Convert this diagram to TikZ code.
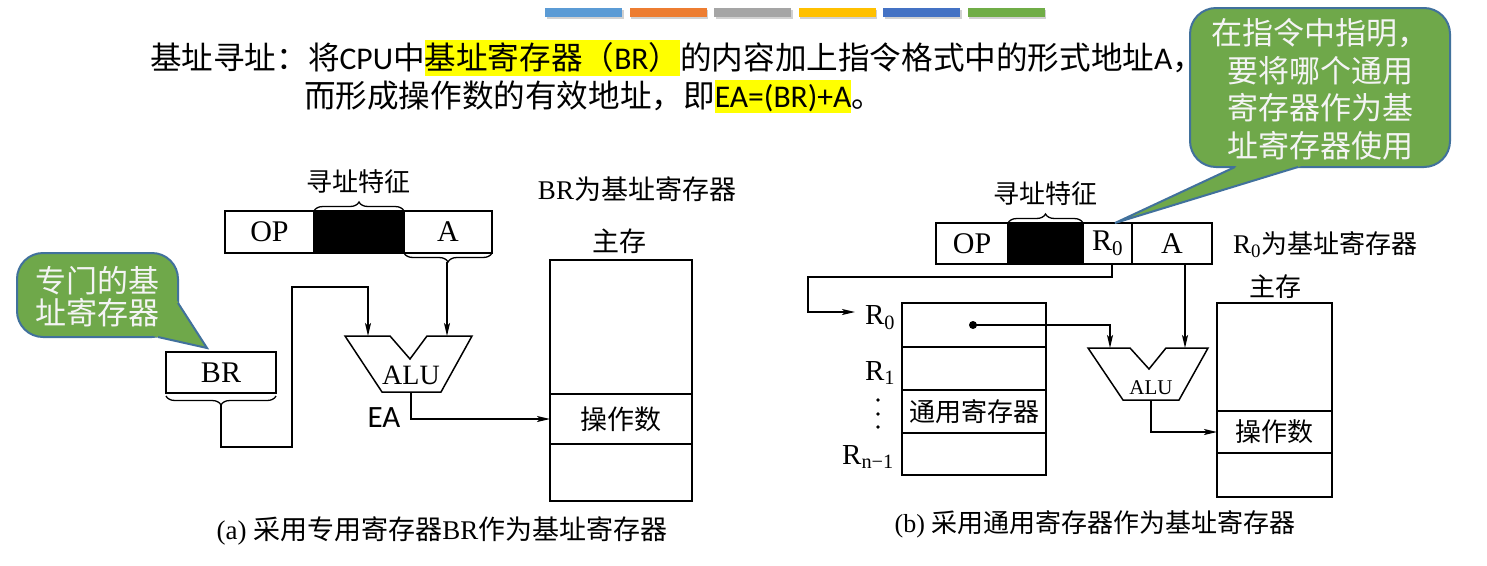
\documentclass[tikz,border=0pt]{standalone}
\usepackage{fontspec}
\setmainfont{Liberation Serif}
\newfontfamily\cjk{Noto Sans CJK SC}
\newfontfamily\carl{Carlito}
\usetikzlibrary{arrows.meta,decorations.pathreplacing}
\definecolor{barA}{HTML}{5B9BD5}
\definecolor{barB}{HTML}{ED7D31}
\definecolor{barC}{HTML}{A5A5A5}
\definecolor{barD}{HTML}{FFC000}
\definecolor{barE}{HTML}{4472C4}
\definecolor{barF}{HTML}{70AD47}
\definecolor{hlyellow}{HTML}{FFFF00}
\definecolor{callgreen}{HTML}{6FA84A}
\definecolor{callborder}{HTML}{41719C}
\definecolor{calltext}{HTML}{F4F4F4}
\newcommand\myfs[1]{\fontsize{#1}{#1}\selectfont}
\begin{document}
\begin{tikzpicture}[x=1pt,y=1pt,
  hseg/.style={inner sep=0pt, outer sep=0pt, anchor=base west, font=\myfs{31.6}},
  hl/.style={hseg, fill=hlyellow, text height=29pt, text depth=7pt},
  cell/.style={draw, line width=1.5pt, inner sep=0pt, outer sep=0pt, font=\myfs{30}},
  lbl/.style={inner sep=0pt, outer sep=0pt, font=\cjk\myfs{26}},
  wire/.style={line width=1.5pt},
  arr/.style={wire, -{Stealth[length=13pt, width=6pt, inset=3pt]}},
  brc/.style={line width=1.3pt, decorate, decoration={brace, amplitude=9pt}},
  alu/.style={line width=1.5pt, line join=miter},
  callout/.style={fill=callgreen, draw=callborder, line width=2pt, rounded corners=26pt},
  calltxt/.style={inner sep=0pt, text=calltext, align=center, font=\cjk\fontsize{31}{37.5}\selectfont}
]
\useasboundingbox (0,0) rectangle (1487,-565);
\fill[white] (0,0) rectangle (1487,-565);

% colour bars
\foreach \c [count=\i from 0] in {barA,barB,barC,barD,barE,barF}{
  \fill[black!18] (545+84.5*\i+1.5,-10) rectangle ++(77,-9);
  \fill[\c] (545+84.5*\i,-8) rectangle ++(77,-9);
}

% header text
\node[hseg] (h1) at (150,-69) {\cjk 基址寻址：将};
\node[hseg] (h2) at (h1.base east) {\carl CPU};
\node[hseg] (h3) at (h2.base east) {\cjk 中};
\node[hl] (h4) at (h3.base east) {{\cjk 基址寄存器（}{\carl BR}{\cjk ）}};
\node[hseg] (h5) at (h4.base east) {{\cjk 的内容加上指令格式中的形式地址}{\carl A}{\cjk ，}};
\node[hseg] (h6) at (304,-107) {\cjk 而形成操作数的有效地址，即};
\node[hl, text height=27pt, text depth=6pt] (h7) at (h6.base east) {\carl EA=(BR)+A};
\node[hseg] (h8) at (h7.base east) {\cjk 。};

% ================= (a) =================
\node[lbl] (tzA) at (358,-182) {寻址特征};
\node[inner sep=0pt, font=\myfs{27}] (brbase) at (637,-189) {BR{\cjk 为基址寄存器}};
\node[cell, minimum width=89pt, minimum height=42pt] (opA) at (269.5,-232) {OP};
\node[cell, fill=black, minimum width=90pt, minimum height=42pt] (blkA) at (359,-232) {};
\node[cell, minimum width=88pt, minimum height=42pt] (aA) at (448,-232) {A};
\draw[brc] (blkA.north west) -- (blkA.north east);
\draw[brc] (aA.south east) -- (aA.south west);
\path (aA.south) ++(-1,-9) coordinate (aTip);

\node[cell, minimum width=110pt, minimum height=41pt] (brA) at (221,-372.5) {BR};
\draw[brc] ([yshift=-3pt]brA.south east) -- ([yshift=-3pt]brA.south west);
\path (brA.south) ++(0,-12) coordinate (brTip);

% ALU (a)
\coordinate (inA1) at (368,-336);
\coordinate (inA2) at (447,-336);
\coordinate (oA) at (411,-392);
\draw[alu] (345,-336) -- (390,-336) -- (410,-359) -- (427,-336) -- (472,-336)
  -- (441,-392) -- (382,-392) -- cycle;
\node[inner sep=0pt, font=\myfs{28}] (aluA) at (411,-375) {ALU};
\node[inner sep=0pt, font=\carl\myfs{31}] (eaA) at (384,-418) {EA};

% memory (a)
\node[lbl, font=\cjk\myfs{27}] (zcA) at (619,-241) {主存};
\node[cell, minimum width=142pt, minimum height=134pt] (memA1) at (621,-327) {};
\node[cell, minimum width=142pt, minimum height=50pt, font=\cjk\myfs{27}] (memA2) at (621,-419) {操作数};
\node[cell, minimum width=142pt, minimum height=57pt] (memA3) at (621,-472.5) {};

% wires (a)
\draw[arr] (aTip) -- (inA2);
\draw[arr] (brTip) -- (221,-447) -- (292,-447) -- (292,-287) -- (368,-287) -- (inA1);
\draw[arr] (oA) |- (memA2.west);

\node[inner sep=0pt, font=\myfs{27}] (capA) at (442,-531) {(a) {\cjk 采用专用寄存器}BR{\cjk 作为基址寄存器}};

% ================= (b) =================
\node[lbl] (tzB) at (1045,-194) {寻址特征};
\node[cell, minimum width=72pt, minimum height=41pt] (opB) at (972,-243.5) {OP};
\node[cell, fill=black, minimum width=75pt, minimum height=41pt] (blkB) at (1045.5,-243.5) {};
\node[cell, minimum width=49pt, minimum height=41pt] (r0B) at (1107.5,-243.5) {R\textsubscript{0}};
\node[cell, minimum width=80pt, minimum height=41pt] (aB) at (1172,-243.5) {A};
\draw[brc] (blkB.north west) -- (blkB.north east);
\node[inner sep=0pt, anchor=west, font=\myfs{27}] (r0base) at (1233,-245) {R\textsubscript{0}{\cjk\myfs{26}为基址寄存器}};

% register file
\node[cell, minimum width=144pt, minimum height=44pt] (rg0) at (974,-325) {};
\node[cell, minimum width=144pt, minimum height=43pt] (rg1) at (974,-368.5) {};
\node[cell, minimum width=144pt, minimum height=43pt, font=\cjk\myfs{26}] (rg2) at (974,-411.5) {通用寄存器};
\node[cell, minimum width=144pt, minimum height=42pt] (rg3) at (974,-454) {};
\node[inner sep=0pt, font=\myfs{29}] (lr0) at (880,-318) {R\textsubscript{0}};
\node[inner sep=0pt, font=\myfs{29}] (lr1) at (880,-373) {R\textsubscript{1}};
\node[inner sep=0pt, font=\myfs{29}] (lrn) at (868,-457) {R\textsubscript{n−1}};
\fill (878,-400) circle (1.8pt);
\fill (878,-414) circle (1.8pt);
\fill (878,-427) circle (1.8pt);

% ALU (b)
\coordinate (inB1) at (1110,-348);
\coordinate (inB2) at (1185,-348);
\coordinate (oB) at (1151,-400);
\draw[alu] (1088,-348) -- (1130,-348) -- (1149,-369) -- (1166,-348) -- (1208,-348)
  -- (1179,-400) -- (1123,-400) -- cycle;
\node[inner sep=0pt, font=\myfs{21}] (aluB) at (1151,-388) {ALU};

% memory (b)
\node[lbl] (zcB) at (1275,-287) {主存};
\node[cell, minimum width=115pt, minimum height=108pt] (memB1) at (1274.5,-357) {};
\node[cell, minimum width=115pt, minimum height=42pt, font=\cjk\myfs{26}] (memB2) at (1274.5,-432) {操作数};
\node[cell, minimum width=115pt, minimum height=44pt] (memB3) at (1274.5,-475) {};

% wires (b)
\coordinate (dotB) at (973,-325);
\fill (dotB) circle (4pt);
\coordinate (r0arr) at (855,-312);
\draw[arr] ([xshift=4.5pt]r0B.south) -- (1112,-277) -- (808,-277) -- (808,-312) -- (r0arr);
\draw[arr] (dotB) -| (inB1);
\draw[arr] ([xshift=13pt]aB.south) -- (inB2);
\draw[arr] (oB) |- (memB2.west);

\node[inner sep=0pt, font=\myfs{26}] (capB) at (1095,-524) {(b) {\cjk 采用通用寄存器作为基址寄存器}};

% ================= callouts =================
% left
\draw[callout] (17,-253) rectangle (178,-337);
\fill[callgreen] (207,-348) -- (175,-297.5) -- (153,-336) -- cycle;
\draw[line width=2pt, draw=callborder, line join=miter] (178,-303) -- (207,-348) -- (158,-337);
\node[calltxt, font=\cjk\fontsize{31}{32}\selectfont] (cl) at (97,-297) {专门的基\\址寄存器};
% right
\draw[callout] (1190,-8) rectangle (1450,-167);
\fill[callgreen] (1115,-223) -- (1250,-160) -- (1321,-160) -- cycle;
\draw[line width=2pt, draw=callborder, line join=miter] (1235,-167) -- (1115,-223) -- (1298,-167);
\node[calltxt] (cr) at (1320,-89) {在指令中指明，\\要将哪个通用\\寄存器作为基\\址寄存器使用};
\end{tikzpicture}
\end{document}
